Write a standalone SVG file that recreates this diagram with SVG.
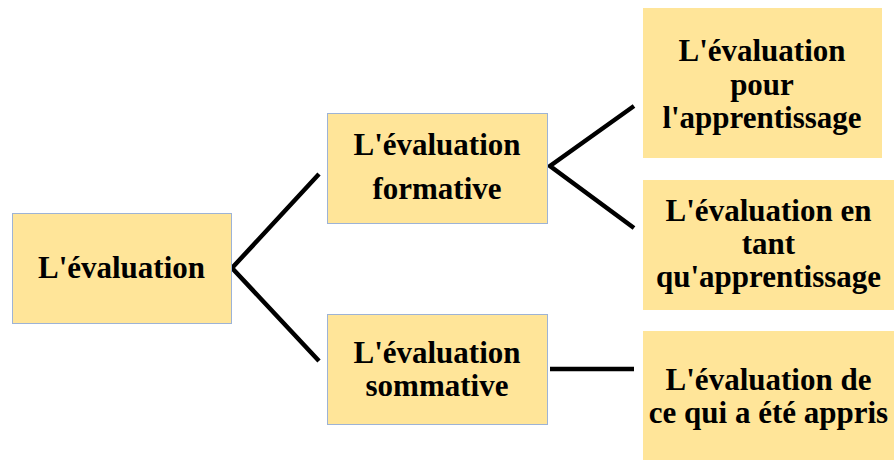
<svg xmlns="http://www.w3.org/2000/svg" width="896" height="460" viewBox="0 0 896 460">
<style>
.box{fill:#FFE599}
.bd{stroke:#9DB3D6;stroke-width:1}
.t{font-family:"Liberation Serif","Times New Roman",serif;font-weight:bold;font-size:31px;fill:#000;text-anchor:middle}
.c{stroke:#000;stroke-width:4.5;fill:none;stroke-linecap:butt}
</style>
<rect width="896" height="460" fill="#fff"/>
<g id="connectors">
<polyline class="c" points="319,174 232,268 319,361"/>
<polyline class="c" points="634,106 550,166 634,228"/>
<line class="c" x1="550" y1="369" x2="634" y2="369" stroke-width="5"/>
</g>
<g id="n-evaluation">
<rect class="box bd" x="12.5" y="213.5" width="219" height="110"/>
<text class="t" x="121.5" y="278">L'évaluation</text>
</g>
<g id="n-formative">
<rect class="box bd" x="327.5" y="113.5" width="220" height="110"/>
<text class="t" x="437" y="155">L'évaluation</text>
<text class="t" x="437" y="199">formative</text>
</g>
<g id="n-sommative">
<rect class="box bd" x="327.5" y="314.5" width="220" height="110"/>
<text class="t" x="437" y="363">L'évaluation</text>
<text class="t" x="437" y="396">sommative</text>
</g>
<g id="n-pour">
<rect class="box" x="643" y="8" width="239" height="150"/>
<text class="t" x="762" y="61">L'évaluation</text>
<text class="t" x="762" y="95">pour</text>
<text class="t" x="762" y="128">l'apprentissage</text>
</g>
<g id="n-entant">
<rect class="box" x="643" y="180" width="251" height="130"/>
<text class="t" x="768.5" y="221">L'évaluation en</text>
<text class="t" x="768.5" y="254">tant</text>
<text class="t" x="768.5" y="287">qu'apprentissage</text>
</g>
<g id="n-appris">
<rect class="box" x="643" y="331" width="251" height="140"/>
<text class="t" x="768.5" y="390">L'évaluation de</text>
<text class="t" x="768.5" y="423">ce qui a été appris</text>
</g>
</svg>
